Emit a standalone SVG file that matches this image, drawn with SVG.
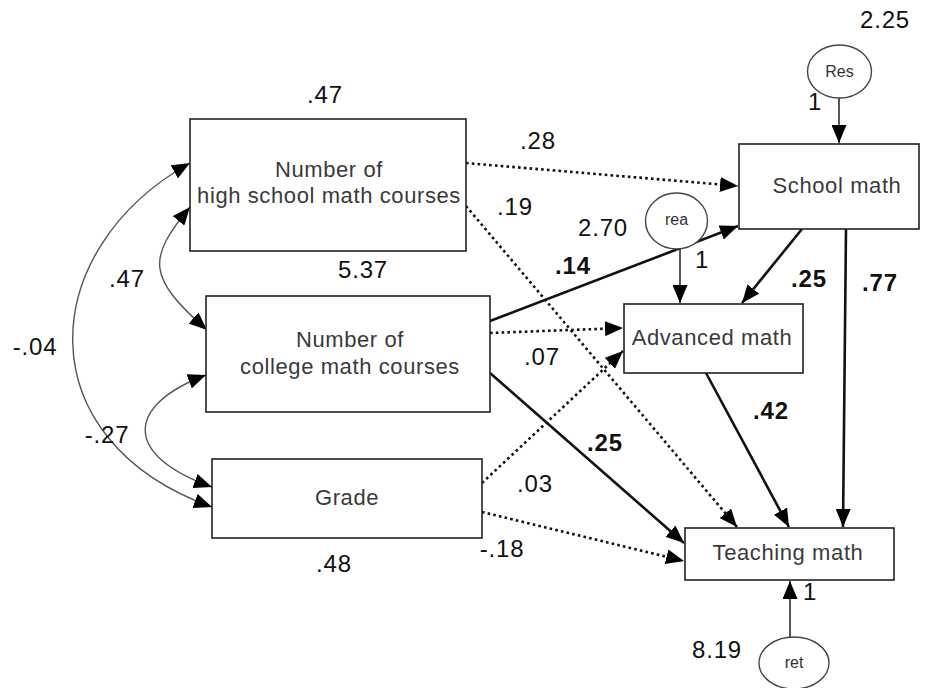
<svg xmlns="http://www.w3.org/2000/svg" width="927" height="688" viewBox="0 0 927 688">
<defs>
<style>
.box{fill:#fff;stroke:#222;stroke-width:1.6}
.ell{fill:#fff;stroke:#444;stroke-width:1.4}
.nt{font-family:"Liberation Sans",Arial,sans-serif;font-size:22px;fill:#3a3a3a;letter-spacing:0.6px;text-anchor:middle}
.et{font-family:"Liberation Sans",Arial,sans-serif;font-size:16px;fill:#333;text-anchor:middle}
.lb{font-family:"Liberation Sans",Arial,sans-serif;font-size:24px;fill:#111;letter-spacing:0.8px;text-anchor:middle}
.bl{font-weight:bold}
.sol{fill:none;stroke:#111;stroke-width:2.6;marker-end:url(#ah)}
.dot{fill:none;stroke:#111;stroke-width:2.6;stroke-dasharray:2.6 3.2;marker-end:url(#ah)}
.thin{fill:none;stroke:#222;stroke-width:1.5;marker-end:url(#ah)}
.cov{fill:none;stroke:#555;stroke-width:1.4;marker-start:url(#ah2);marker-end:url(#ah2)}
</style>
<marker id="ah" viewBox="0 0 18 15" refX="18" refY="7.5" markerWidth="18" markerHeight="15" markerUnits="userSpaceOnUse" orient="auto">
<path d="M0,0 L18,7.5 L0,15 z" fill="#000"/>
</marker>
<marker id="ah2" viewBox="0 0 18 15" refX="18" refY="7.5" markerWidth="18" markerHeight="15" markerUnits="userSpaceOnUse" orient="auto-start-reverse">
<path d="M0,0 L18,7.5 L0,15 z" fill="#000"/>
</marker>
</defs>
<rect width="927" height="688" fill="#fff"/>

<g id="connectors">
<path class="cov" d="M190,163 C35,250 25,440 212,507"/>
<path class="cov" d="M190,207 C147,259 147,277 207,330"/>
<path class="cov" d="M206,375 C124,406 124,456 212,487"/>
<line class="dot" x1="466" y1="163" x2="738" y2="186"/>
<line class="dot" x1="466" y1="206" x2="737" y2="527"/>
<line class="sol" x1="490" y1="321" x2="738" y2="226"/>
<line class="dot" x1="490" y1="333" x2="623" y2="328"/>
<line class="sol" x1="490" y1="373" x2="684" y2="543"/>
<line class="dot" x1="482" y1="483" x2="623" y2="351"/>
<line class="dot" x1="482" y1="512" x2="684" y2="561"/>
<line class="sol" x1="802" y1="229" x2="742" y2="303"/>
<line class="sol" x1="846" y1="229" x2="843" y2="527"/>
<line class="sol" x1="706" y1="373" x2="789" y2="527"/>
<line class="thin" x1="839" y1="98" x2="839" y2="143"/>
<line class="thin" x1="680" y1="249" x2="680" y2="303"/>
<line class="thin" x1="790" y1="637" x2="790" y2="581"/>
</g>

<g id="hs">
<rect class="box" x="190" y="119" width="276" height="132"/>
<text class="nt" x="329" y="177">Number of</text>
<text class="nt" x="329" y="203">high school math courses</text>
</g>
<g id="college">
<rect class="box" x="206" y="296" width="284" height="116"/>
<text class="nt" x="350" y="347">Number of</text>
<text class="nt" x="350" y="374">college math courses</text>
</g>
<g id="grade">
<rect class="box" x="212" y="459" width="270" height="79"/>
<text class="nt" x="347" y="505">Grade</text>
</g>
<g id="school">
<rect class="box" x="739" y="144" width="180" height="85"/>
<text class="nt" x="837" y="193">School math</text>
</g>
<g id="advanced">
<rect class="box" x="624" y="304" width="179" height="69"/>
<text class="nt" x="712" y="345">Advanced math</text>
</g>
<g id="teaching">
<rect class="box" x="685" y="528" width="209" height="52"/>
<text class="nt" x="788" y="560">Teaching math</text>
</g>
<g id="res">
<ellipse class="ell" cx="839.5" cy="71.5" rx="32" ry="26.5"/>
<text class="et" x="839.5" y="77">Res</text>
</g>
<g id="rea">
<ellipse class="ell" cx="676.5" cy="221" rx="31" ry="28"/>
<text class="et" x="676.5" y="225">rea</text>
</g>
<g id="ret">
<ellipse class="ell" cx="794" cy="663" rx="35" ry="26"/>
<text class="et" x="794" y="668">ret</text>
</g>

<g id="labels">
<text class="lb" x="885" y="28">2.25</text>
<text class="lb" x="815" y="110">1</text>
<text class="lb" x="325" y="103">.47</text>
<text class="lb" x="538" y="149">.28</text>
<text class="lb" x="515" y="215">.19</text>
<text class="lb" x="603" y="236">2.70</text>
<text class="lb" x="702" y="268">1</text>
<text class="lb bl" x="573" y="274">.14</text>
<text class="lb" x="363" y="278">5.37</text>
<text class="lb" x="127" y="287">.47</text>
<text class="lb bl" x="809" y="287">.25</text>
<text class="lb bl" x="880" y="291">.77</text>
<text class="lb" x="35" y="355">-.04</text>
<text class="lb" x="542" y="365">.07</text>
<text class="lb bl" x="771" y="419">.42</text>
<text class="lb" x="107" y="443">-.27</text>
<text class="lb bl" x="605" y="451">.25</text>
<text class="lb" x="535" y="492">.03</text>
<text class="lb" x="502" y="557">-.18</text>
<text class="lb" x="334" y="572">.48</text>
<text class="lb" x="717" y="658">8.19</text>
<text class="lb" x="810" y="600">1</text>
</g>
</svg>
